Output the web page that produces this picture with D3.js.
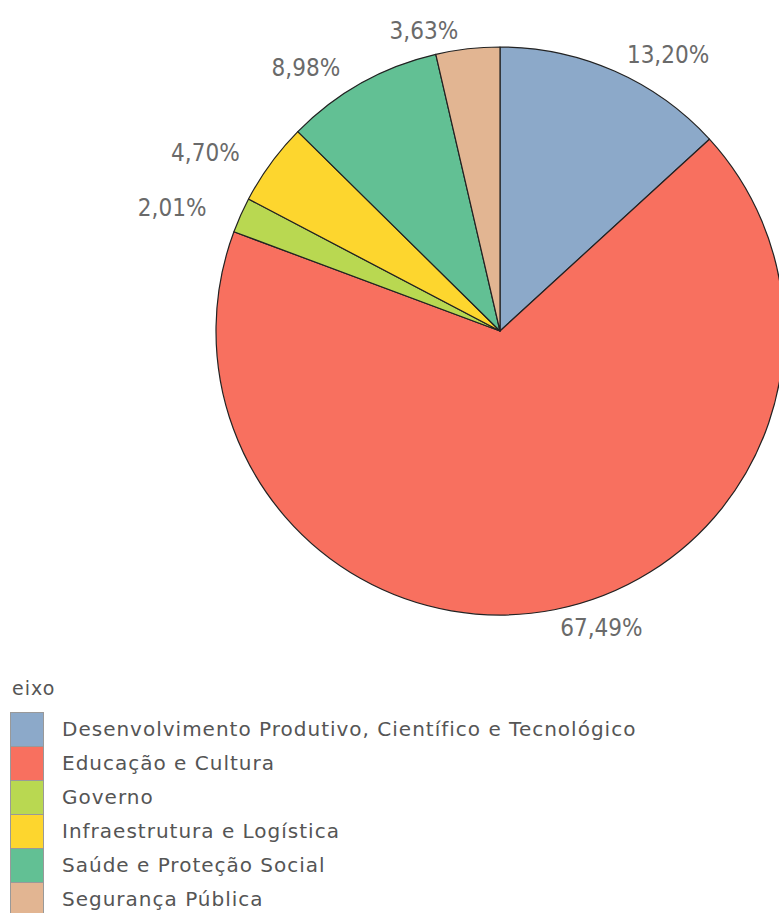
<!DOCTYPE html>
<html>
<head>
<meta charset="utf-8">
<script src="https://cdn.jsdelivr.net/npm/d3@7"></script>
<style>
  body { margin: 0; background: #fff; }
  svg { display: block; }
</style>
</head>
<body>
<svg width="779" height="913"></svg>
<script>
// data
var categories = [
	"Desenvolvimento Produtivo, Científico e Tecnológico",
	"Educação e Cultura",
	"Governo",
	"Infraestrutura e Logística",
	"Saúde e Proteção Social",
	"Segurança Pública"
];
var values = [13.20, 67.49, 2.01, 4.70, 8.98, 3.63];
var labels = ["13,20%", "67,49%", "2,01%", "4,70%", "8,98%", "3,63%"];
var colors = ["#8ca9c9", "#f8705f", "#b9d851", "#fdd62e", "#62c094", "#e2b592"];
var legendTitle = "eixo";

var svg = d3.select("svg"),
	width = +svg.attr("width"),
	height = +svg.attr("height");

var cx = 500, cy = 331, r = 284;

var pie = d3.pie().sort(null).value(function (d) { return d; });
var arc = d3.arc().innerRadius(0).outerRadius(r);
var color = d3.scaleOrdinal().domain(categories).range(colors);

var arcs = pie(values);

var g = svg.append("g").attr("transform", "translate(" + cx + "," + cy + ")");

g.selectAll("path")
	.data(arcs)
	.enter().append("path")
	.attr("d", arc)
	.attr("fill", function (d, i) { return color(categories[i]); })
	.attr("stroke", "#222")
	.attr("stroke-width", 1.2)
	.attr("stroke-linejoin", "round");

// labels outside, anchored by side
g.selectAll("text.lbl")
	.data(arcs)
	.enter().append("text")
	.attr("class", "lbl")
	.attr("x", function (d) {
		var a = (d.startAngle + d.endAngle) / 2;
		return (r + 31) * Math.sin(a) + (a < Math.PI ? 0 : -6);
	})
	.attr("y", function (d) {
		var a = (d.startAngle + d.endAngle) / 2;
		return -(r + 18) * Math.cos(a);
	})
	.attr("dy", "0.35em")
	.attr("text-anchor", function (d) {
		var a = (d.startAngle + d.endAngle) / 2;
		return a < Math.PI ? "start" : "end";
	})
	.style("font-family", "'DejaVu Sans Condensed', 'DejaVu Sans', sans-serif")
	.style("font-size", "24px")
	.style("fill", "#6a6a6a")
	.text(function (d, i) { return labels[i]; });

// legend
var legend = svg.append("g").attr("transform", "translate(10,0)");

legend.append("text")
	.attr("x", 2)
	.attr("y", 688)
	.attr("dy", "0.35em")
	.style("font-family", "'DejaVu Sans', sans-serif")
	.style("font-size", "19px")
	.style("letter-spacing", "1px")
	.style("fill", "#555")
	.text(legendTitle);

var rowY = d3.scaleBand().domain(categories).range([712, 712 + 34 * categories.length]);

var row = legend.selectAll("g.row")
	.data(categories)
	.enter().append("g")
	.attr("class", "row")
	.attr("transform", function (d) { return "translate(0," + rowY(d) + ")"; });

row.append("rect")
	.attr("x", 0.5)
	.attr("y", 0.5)
	.attr("width", 33)
	.attr("height", rowY.bandwidth())
	.attr("fill", function (d) { return color(d); })
	.attr("stroke", "#999")
	.attr("stroke-width", 1);

row.append("text")
	.attr("x", 52)
	.attr("y", rowY.bandwidth() / 2)
	.attr("dy", "0.35em")
	.style("font-family", "'DejaVu Sans', sans-serif")
	.style("font-size", "20px")
	.style("letter-spacing", "1px")
	.style("fill", "#555")
	.text(function (d) { return d; });
</script>
</body>
</html>
